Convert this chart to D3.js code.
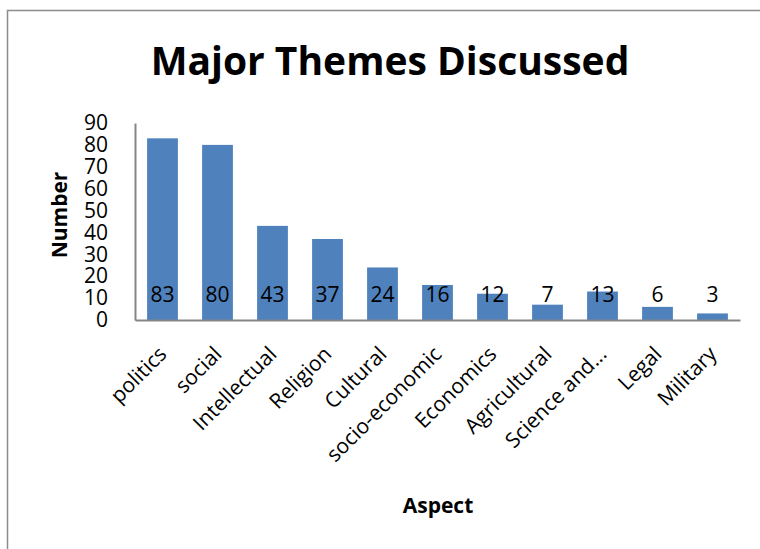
<!DOCTYPE html>
<html>
<head>
<meta charset="utf-8">
<script src="https://cdn.jsdelivr.net/npm/d3@7"></script>
<style>
	body { margin: 0; background: #fff; }
	text { font-family: "Open Sans", sans-serif; fill: #000; }
</style>
</head>
<body>
<svg id="chart"></svg>
<script>
const categories = ["politics", "social", "Intellectual", "Religion", "Cultural", "socio-economic",
	"Economics", "Agricultural", "Science and...", "Legal", "Military"];
const counts = [83, 80, 43, 37, 24, 16, 12, 7, 13, 6, 3];
const yTicks = [0, 10, 20, 30, 40, 50, 60, 70, 80, 90];

const width = 760;
const height = 549;
const margin = { top: 123, right: 20, bottom: 229, left: 135 };

const svg = d3.select("#chart")
	.attr("width", width)
	.attr("height", height);

// outer chart border
svg.append("rect")
	.attr("x", 7.5)
	.attr("y", 10.5)
	.attr("width", width)
	.attr("height", height)
	.attr("fill", "none")
	.attr("stroke", "#8c8c8c")
	.attr("stroke-width", 1.5);

const x = d3.scaleBand()
	.domain(categories)
	.range([margin.left, width - margin.right])
	.paddingInner(0.44)
	.paddingOuter(0.22);

const y = d3.scaleLinear()
	.domain([0, 90])
	.range([height - margin.bottom, margin.top]);

// bars
svg.selectAll(".bar")
	.data(categories)
	.enter().append("rect")
	.attr("class", "bar")
	.attr("x", d => x(d))
	.attr("y", (d, i) => y(counts[i]))
	.attr("width", x.bandwidth())
	.attr("height", (d, i) => y(0) - y(counts[i]))
	.attr("fill", "#4f81bd");

// value labels
svg.selectAll(".val")
	.data(categories)
	.enter().append("text")
	.attr("class", "val")
	.attr("x", d => x(d) + x.bandwidth() / 2)
	.attr("y", y(0) - 18)
	.attr("text-anchor", "middle")
	.style("font-size", "21px")
	.text((d, i) => counts[i]);

// y axis
const yAxis = svg.append("g")
	.attr("transform", `translate(${margin.left},0)`)
	.call(d3.axisLeft(y).tickValues(yTicks).tickSize(0).tickPadding(27));
yAxis.select(".domain").attr("stroke", "#868686").attr("stroke-width", 2);
yAxis.selectAll("text")
	.style("font-size", "21px")
	.style("font-family", "'Open Sans', sans-serif")
	.attr("fill", "#000");

// x axis
const xAxis = svg.append("g")
	.attr("transform", `translate(0,${y(0)})`)
	.call(d3.axisBottom(x).tickSize(0).tickFormat(""));
xAxis.select(".domain").attr("stroke", "#868686").attr("stroke-width", 2);

svg.selectAll(".xlab")
	.data(categories)
	.enter().append("text")
	.attr("class", "xlab")
	.attr("text-anchor", "end")
	.attr("transform", d => `translate(${x(d) + x.bandwidth() / 2 - 5},${y(0) + 25}) rotate(-45)`)
	.attr("dy", "0.7em")
	.style("font-size", "21px")
	.text(d => d);

// title
svg.append("text")
	.attr("x", 390)
	.attr("y", 75)
	.attr("text-anchor", "middle")
	.style("font-size", "39px")
	.style("font-weight", "bold")
	.text("Major Themes Discussed");

// axis titles
svg.append("text")
	.attr("transform", "translate(67,215) rotate(-90)")
	.attr("text-anchor", "middle")
	.style("font-size", "21px")
	.style("font-weight", "bold")
	.text("Number");

svg.append("text")
	.attr("x", 438)
	.attr("y", 513)
	.attr("text-anchor", "middle")
	.style("font-size", "21px")
	.style("font-weight", "bold")
	.text("Aspect");
</script>
</body>
</html>
